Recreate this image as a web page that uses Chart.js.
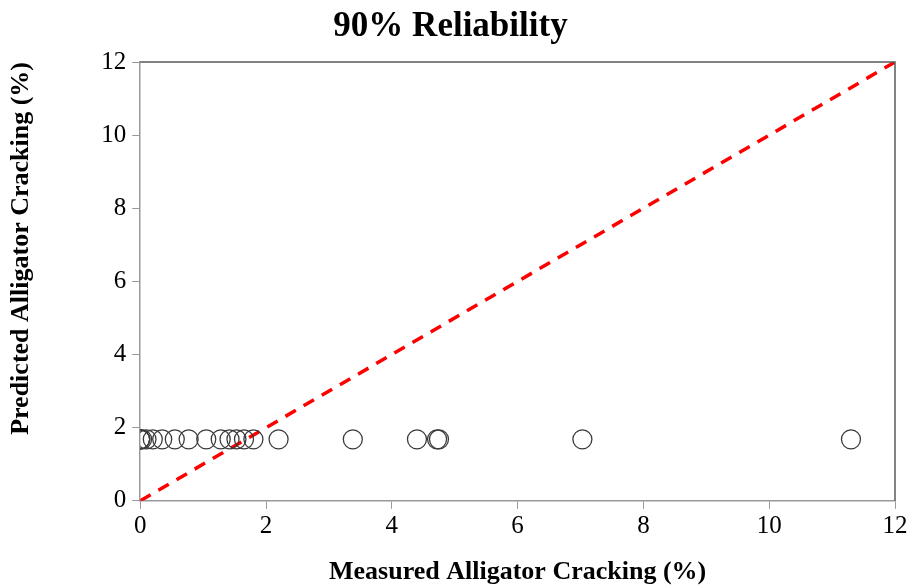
<!DOCTYPE html>
<html lang="en">
<head>
    <meta charset="UTF-8">
    <title>90% Reliability</title>
    <script src="https://cdn.jsdelivr.net/npm/chart.js"></script>
    <style>
        body {
            margin: 0;
            background: white;
        }
        #chartBox {
            width: 915px;
            height: 588px;
        }
    </style>
</head>
<body>

    <div id="chartBox">
        <canvas id="reliabilityChart" width="915" height="588"></canvas>
    </div>

    <script>
        // measured vs predicted alligator cracking (%)
        const measured = [0, 0, 0, 0.03, 0.1, 0.2, 0.35, 0.55, 0.77, 1.05, 1.28, 1.42, 1.53, 1.65, 1.8, 2.2, 3.38, 4.4, 4.72, 4.75, 7.03, 11.3];
        const predicted = [1.68, 1.68, 1.68, 1.68, 1.68, 1.68, 1.68, 1.68, 1.68, 1.68, 1.68, 1.68, 1.68, 1.68, 1.68, 1.68, 1.68, 1.68, 1.68, 1.68, 1.68, 1.68];
        const equalityX = [0, 12];
        const equalityY = [0, 12];

        const serif = "'Liberation Serif', 'Times New Roman', serif";

        // box around the plot area (top + right edges)
        const frame = {
            id: "frame",
            afterDraw(chart) {
                const a = chart.chartArea;
                const c = chart.ctx;
                c.save();
                c.strokeStyle = "#595959";
                c.lineWidth = 1.5;
                c.beginPath();
                c.moveTo(a.left, a.top);
                c.lineTo(a.right, a.top);
                c.lineTo(a.right, a.bottom);
                c.stroke();
                c.restore();
            }
        };

        const ctx = document.getElementById("reliabilityChart").getContext("2d");
        new Chart(ctx, {
            type: "scatter",
            data: {
                datasets: [{
                    label: "Predicted",
                    data: measured.map((m, i) => ({ x: m, y: predicted[i] })),
                    pointStyle: "circle",
                    pointRadius: 9.5,
                    borderColor: "#3a3a3a",
                    backgroundColor: "rgba(0,0,0,0)",
                    borderWidth: 1.3
                }, {
                    label: "Line of equality",
                    type: "line",
                    data: equalityX.map((x, i) => ({ x: x, y: equalityY[i] })),
                    borderColor: "#ff0000",
                    borderWidth: 3.5,
                    borderDash: [12, 9],
                    pointRadius: 0,
                    fill: false
                }]
            },
            options: {
                responsive: false,
                animation: false,
                layout: { padding: { top: 0, right: 20, left: 6, bottom: 0 } },
                plugins: {
                    legend: { display: false },
                    tooltip: { enabled: false },
                    title: {
                        display: true,
                        text: "90% Reliability",
                        color: "#000",
                        font: { family: serif, size: 35, weight: "bold" },
                        padding: { top: 6, bottom: 14 }
                    }
                },
                scales: {
                    x: {
                        type: "linear",
                        min: 0,
                        max: 12,
                        ticks: {
                            stepSize: 2,
                            color: "#000",
                            font: { family: serif, size: 25 },
                            padding: 3
                        },
                        grid: {
                            drawOnChartArea: false,
                            tickLength: 8,
                            color: "#999"
                        },
                        border: { color: "#999", width: 1.5 },
                        title: {
                            display: true,
                            text: "Measured Alligator Cracking (%)",
                            color: "#000",
                            font: { family: serif, size: 26, weight: "bold" },
                            padding: { top: 12, bottom: 0 }
                        }
                    },
                    y: {
                        type: "linear",
                        min: 0,
                        max: 12,
                        ticks: {
                            stepSize: 2,
                            color: "#000",
                            font: { family: serif, size: 25 },
                            padding: 6
                        },
                        grid: {
                            drawOnChartArea: false,
                            tickLength: 8,
                            color: "#999"
                        },
                        border: { color: "#999", width: 1.5 },
                        title: {
                            display: true,
                            align: "end",
                            text: "Predicted Alligator Cracking (%)",
                            color: "#000",
                            font: { family: serif, size: 26, weight: "bold" },
                            padding: { top: 0, bottom: 58 }
                        }
                    }
                }
            },
            plugins: [frame]
        });
    </script>

</body>
</html>
